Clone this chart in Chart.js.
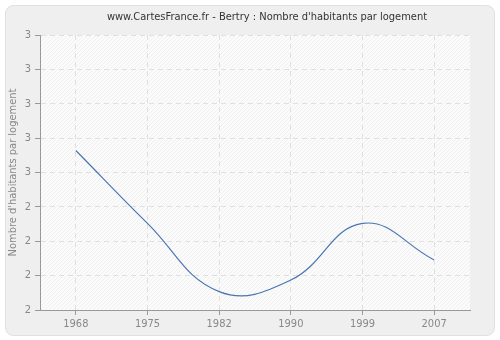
<!DOCTYPE html>
<html>
<head>
<meta charset="utf-8">
<script src="https://cdn.jsdelivr.net/npm/chart.js@4"></script>
<style>
  html, body { margin: 0; padding: 0; background: #fff; }
  #wrap { width: 500px; height: 340px; }
</style>
</head>
<body>
<div id="wrap"><canvas id="chart" width="500" height="340"></canvas></div>
<script>
// values
const years = ["1968", "1975", "1982", "1990", "1999", "2007"];
const perDwelling = [2.58, 2.315, 2.067, 2.109, 2.315, 2.182];

const titleText = "www.CartesFrance.fr - Bertry : Nombre d'habitants par logement";
const yTitle = "Nombre d'habitants par logement";
const fontFam = "'DejaVu Sans Condensed', 'DejaVu Sans', sans-serif";

// panel, hatched plot background and title
const backdrop = {
  id: "backdrop",
  beforeDraw(chart) {
    const ctx = chart.ctx;
    const a = chart.chartArea;
    ctx.save();
    ctx.fillStyle = "#ffffff";
    ctx.fillRect(0, 0, chart.width, chart.height);
    ctx.beginPath();
    ctx.roundRect(5.5, 5.5, chart.width - 11, chart.height - 10, 8);
    ctx.fillStyle = "#efefef";
    ctx.fill();
    ctx.strokeStyle = "#e0e0e0";
    ctx.lineWidth = 1;
    ctx.stroke();

    ctx.fillStyle = "#fbfbfb";
    ctx.fillRect(a.left, a.top, a.right - a.left, a.bottom - a.top);
    ctx.beginPath();
    ctx.rect(a.left, a.top, a.right - a.left, a.bottom - a.top);
    ctx.clip();
    ctx.strokeStyle = "#ededed";
    ctx.lineWidth = 0.8;
    const h = Math.round(a.bottom - a.top);
    for (let x = Math.round(a.left) - h; x < a.right + h; x += 4) {
      ctx.beginPath();
      ctx.moveTo(x, a.bottom);
      ctx.lineTo(x + h, a.bottom - h);
      ctx.stroke();
    }
    ctx.restore();

    ctx.save();
    ctx.fillStyle = "#333";
    ctx.font = "11px " + fontFam;
    ctx.textAlign = "center";
    ctx.textBaseline = "middle";
    ctx.fillText(titleText, 267, 17);
    ctx.restore();
  }
};

new Chart(document.getElementById("chart"), {
  type: "line",
  data: {
    labels: years,
    datasets: [{
      data: perDwelling,
      borderColor: "#4a76b0",
      borderWidth: 1.2,
      pointRadius: 0,
      fill: false,
      tension: 0.42
    }]
  },
  options: {
    responsive: false,
    animation: false,
    devicePixelRatio: 1,
    layout: { padding: { left: 0, right: 30, top: 35, bottom: 0 } },
    plugins: {
      legend: { display: false },
      tooltip: { enabled: false },
      title: { display: false }
    },
    scales: {
      x: {
        type: "category",
        offset: true,
        grid: {
          color: "#e0e0e0",
          tickColor: "#999",
          tickLength: 5,
          tickBorderDash: []
        },
        border: { color: "#999", dash: [5, 4] },
        ticks: {
          color: "#888",
          font: { family: fontFam, size: 11 },
          maxRotation: 0,
          padding: 3
        },
        afterFit(scale) { scale.height = 30; }
      },
      y: {
        min: 2,
        max: 3,
        grid: {
          color: "#e0e0e0",
          tickColor: "#999",
          tickLength: 5,
          tickBorderDash: []
        },
        border: { color: "#999", dash: [5, 4] },
        ticks: {
          stepSize: 0.125,
          color: "#888",
          font: { family: fontFam, size: 11 },
          padding: 4,
          callback: (v) => Math.round(v)
        },
        title: {
          display: true,
          text: yTitle,
          color: "#888",
          font: { family: fontFam, size: 11 },
          padding: { top: 7, bottom: 0 }
        },
        afterFit(scale) { scale.width = 40; }
      }
    }
  },
  plugins: [backdrop]
});
</script>
</body>
</html>
